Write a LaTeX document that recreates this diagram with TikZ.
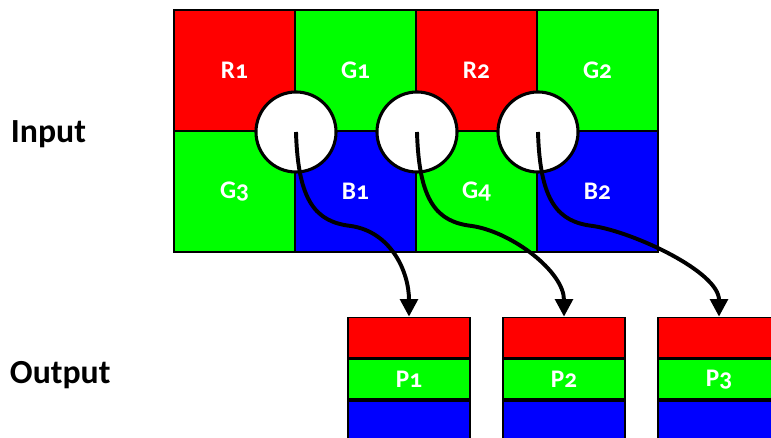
\documentclass[tikz,border=0pt]{standalone}
\usepackage{fontspec}
\setmainfont{Carlito}[Numbers=OldStyle]
\usepackage{tikz}
\usetikzlibrary{arrows.meta, positioning, calc}
\definecolor{PixRed}{HTML}{FF0000}
\definecolor{PixGreen}{HTML}{00FF00}
\definecolor{PixBlue}{HTML}{0000FF}
\tikzset{
  % Box styles
  cellbox/.style={rectangle, draw=black, line width=1.4pt, minimum width=3.025cm, minimum height=3.025cm, inner sep=0pt, text=white, font=\fontsize{18}{21}\selectfont\bfseries},
  bandbox/.style={rectangle, draw=black, line width=1.2pt, minimum width=3.05cm, minimum height=1.0cm, inner sep=0pt, text=white, font=\fontsize{18}{21}\selectfont\bfseries},
  lens/.style={circle, draw=black, fill=white, line width=2.2pt, minimum size=2.0cm, inner sep=0pt},
  % Label and arrow styles
  sidelabel/.style={anchor=west, font=\fontsize{24}{28}\selectfont\bfseries},
  pixarrow/.style={-{Triangle[length=0.44cm,width=0.44cm]}, line width=2.8pt, black}
}
\begin{document}
\begin{tikzpicture}[x=0.025cm, y=-0.025cm]
  \useasboundingbox (0,0) rectangle (771,438);

  % Input mosaic
  \node[cellbox, fill=PixRed]   (r1) at (234.5,70.5) {R1};
  \node[cellbox, fill=PixGreen] (g1) at (355.5,70.5) {G1};
  \node[cellbox, fill=PixRed]   (r2) at (476.5,70.5) {R2};
  \node[cellbox, fill=PixGreen] (g2) at (597.5,70.5) {G2};
  \node[cellbox, fill=PixGreen] (g3) at (234.5,191.5) {G3};
  \node[cellbox, fill=PixBlue]  (b1) at (355.5,191.5) {B1};
  \node[cellbox, fill=PixGreen] (g4) at (476.5,191.5) {G4};
  \node[cellbox, fill=PixBlue]  (b2) at (597.5,191.5) {B2};

  % Sampling windows
  \node[lens] (w1) at (r1.south east) {};
  \node[lens] (w2) at (g1.south east) {};
  \node[lens] (w3) at (r2.south east) {};

  % Output pixels
  \node[bandbox, fill=PixRed]   (p1r) at (409,337.5) {};
  \node[bandbox, fill=PixGreen, below=0pt of p1r] (p1g) {\raisebox{-0.3ex}{P1}};
  \node[bandbox, fill=PixBlue,  below=0pt of p1g] (p1b) {};
  \node[bandbox, fill=PixRed]   (p2r) at (564,337.5) {};
  \node[bandbox, fill=PixGreen, below=0pt of p2r] (p2g) {\raisebox{-0.3ex}{P2}};
  \node[bandbox, fill=PixBlue,  below=0pt of p2g] (p2b) {};
  \node[bandbox, fill=PixRed]   (p3r) at (719,337.5) {};
  \node[bandbox, fill=PixGreen, below=0pt of p3r] (p3g) {\raisebox{-0.3ex}{P3}};
  \node[bandbox, fill=PixBlue,  below=0pt of p3g] (p3b) {};

  % Arrows
  \draw[pixarrow] (w1.center) .. controls ($(w1.center)+(2,70)$) and ($(w1.center)+(20,90)$) .. ($(w1.center)+(55,94)$)
    .. controls ($(w1.center)+(95,100)$) and ($(p1r.north)+(0,-45)$) .. (p1r.north);
  \draw[pixarrow] (w2.center) .. controls ($(w2.center)+(2,70)$) and ($(w2.center)+(20,90)$) .. ($(w2.center)+(55,94)$)
    .. controls ($(w2.center)+(95,100)$) and ($(p2r.north)+(0,-45)$) .. (p2r.north);
  \draw[pixarrow] (w3.center) .. controls ($(w3.center)+(2,70)$) and ($(w3.center)+(20,90)$) .. ($(w3.center)+(55,94)$)
    .. controls ($(w3.center)+(95,100)$) and ($(p3r.north)+(0,-45)$) .. (p3r.north);

  % Labels
  \node[sidelabel] (inlabel) at (6,134) {Input};
  \node[sidelabel] (outlabel) at (5,375) {Output};
\end{tikzpicture}
\end{document}
